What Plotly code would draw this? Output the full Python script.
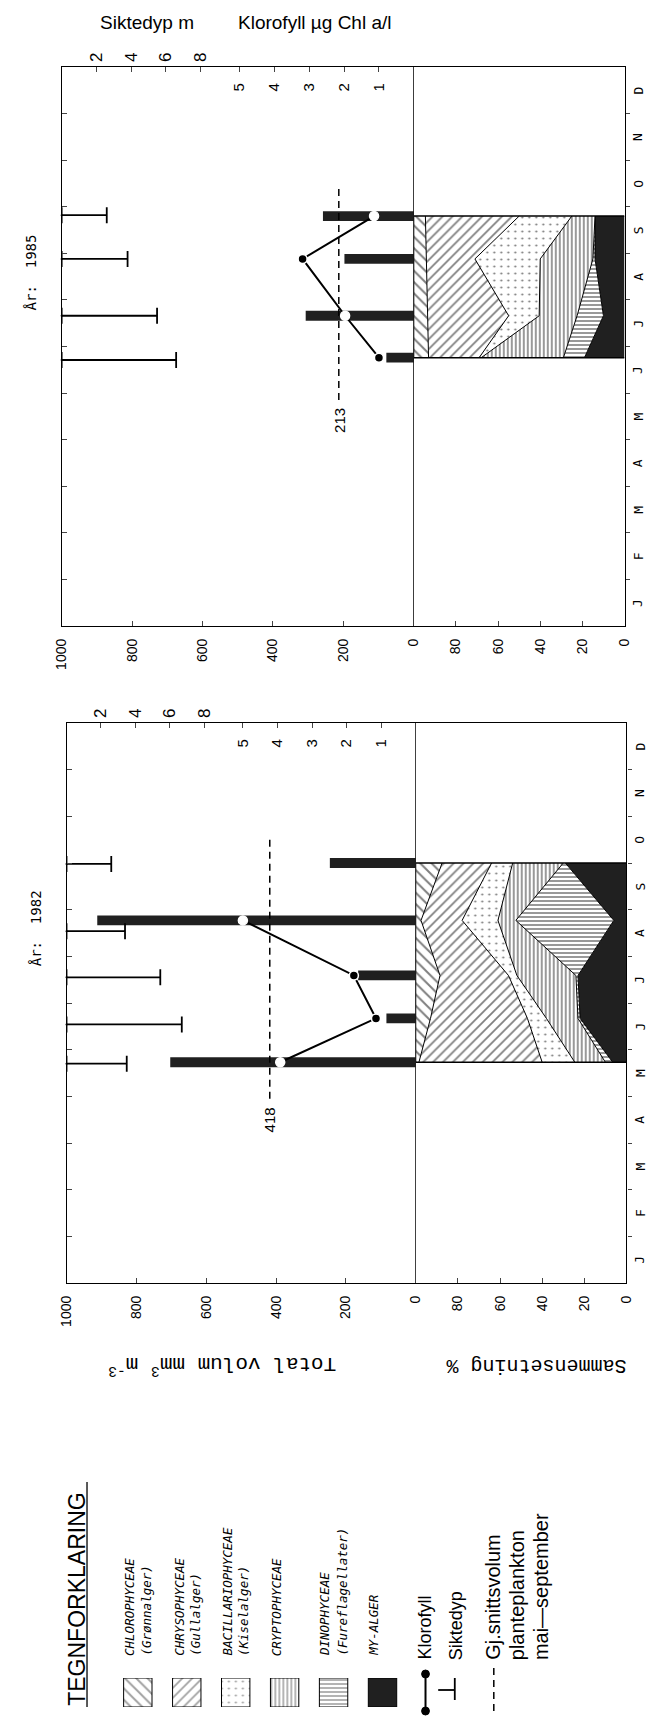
import plotly.graph_objects as go

# ---------------- data ----------------
MONTHS = ["J", "F", "M", "A", "M", "J", "J", "A", "S", "O", "N", "D"]
MONTH_CENTERS = [0.5, 1.5, 2.5, 3.5, 4.5, 5.5, 6.5, 7.5, 8.5, 9.5, 10.5, 11.5]
MONTH_BOUNDS = [1, 2, 3, 4, 5, 6, 7, 8, 9, 10, 11]

VOL_TICKS = [0, 200, 400, 600, 800, 1000]
PCT_TICKS = [0, 20, 40, 60, 80]
SIKT_TICKS = [2, 4, 6, 8]
CHL_TICKS = [1, 2, 3, 4, 5]

# sampling dates in month units (0 = 1 January)
date_1985 = [5.76, 6.66, 7.88, 8.80]
vol_1985 = [78, 307, 197, 258]            # total volum mm3/m3
chl_1985 = [1.0, 1.97, 3.19, 1.14]        # klorofyll ug Chl a/l
sikt_date_1985 = [5.71, 6.66, 7.88, 8.82]
sikt_1985 = [6.6, 5.5, 3.8, 2.6]          # siktedyp m
avg_1985 = 213
dash_1985 = [4.85, 9.45]
avg_label_1985 = 4.42

date_1982 = [4.73, 5.67, 6.59, 7.77, 9.0]
vol_1982 = [703, 84, 165, 912, 246]
chl_1982 = [3.92, 1.15, 1.79, 5.0]
sikt_date_1982 = [4.70, 5.54, 6.55, 7.54, 8.98]
sikt_1982 = [3.5, 6.7, 5.45, 3.4, 2.6]
avg_1982 = 418
dash_1982 = [3.95, 9.55]
avg_label_1982 = 3.5

# composition (%) per sampling date
my_1985 = [19, 10, 14, 14]
dino_1985 = [10, 12.5, 1, 0]
crypto_1985 = [39, 18, 25, 11]
bacil_1985 = [1, 14.5, 31, 25]
chryso_1985 = [24, 38.5, 23, 44.5]
chloro_1985 = [7, 6.5, 6, 5.5]

my_1982 = [6.5, 22, 23, 6, 29]
dino_1982 = [3.5, 1, 1, 46.5, 1]
crypto_1982 = [14.5, 15, 28, 8.5, 24]
bacil_1982 = [15.5, 9, 4, 17, 10]
chryso_1982 = [58.5, 46, 32.5, 19.5, 23.5]
chloro_1982 = [1.5, 7, 11.5, 2.5, 12.5]

GROUP_NAMES = ["MY-ALGER", "DINOPHYCEAE", "CRYPTOPHYCEAE",
               "BACILLARIOPHYCEAE", "CHRYSOPHYCEAE", "CHLOROPHYCEAE"]

# ---------------- styling ----------------
W, H = 653, 1718
DARK = "#202020"
STYLE = {
    "MY-ALGER": dict(color=DARK, shape=""),
    "DINOPHYCEAE": dict(color="white", shape="-", size=4, sol=0.4),
    "CRYPTOPHYCEAE": dict(color="white", shape="|", size=4, sol=0.4),
    "BACILLARIOPHYCEAE": dict(color="white", shape=".", size=7, sol=0.08),
    "CHRYSOPHYCEAE": dict(color="white", shape="/", size=7, sol=0.25),
    "CHLOROPHYCEAE": dict(color="white", shape="\\", size=8, sol=0.25),
}
TICKFONT = dict(family="Liberation Sans", size=14, color="black")


def px(x):
    return x / W


def py(y):
    return 1 - y / H


fig = go.Figure()
annotations = []
shapes = []
layout_axes = {}


def ann(**kw):
    kw.setdefault("showarrow", False)
    kw.setdefault("xanchor", "center")
    kw.setdefault("yanchor", "middle")
    annotations.append(kw)


def add_panel(year, geo, ax, dates, vols, chls, sdates, sikts, avg, dash, avg_lab, comp):
    xv, xp, xs, xc, ym, yi = ax
    # composition stacked areas
    for name, vals in zip(GROUP_NAMES, comp):
        st = STYLE[name]
        kw = dict(x=vals, y=dates, orientation="h", stackgroup="c" + year, mode="lines",
                  line=dict(color="black", width=1), xaxis=xp, yaxis=ym,
                  fillcolor=st["color"], hoverinfo="skip")
        if st["shape"]:
            kw["fillpattern"] = dict(shape=st["shape"], fgcolor="black", bgcolor="white",
                                     size=st["size"], solidity=st["sol"])
        fig.add_trace(go.Scatter(**kw))
    # volume bars
    fig.add_trace(go.Bar(x=vols, y=dates, orientation="h", width=0.21,
                         marker=dict(color=DARK, line=dict(width=0)),
                         xaxis=xv, yaxis=ym))
    # average dashed line
    fig.add_trace(go.Scatter(x=[avg, avg], y=dash, mode="lines",
                             line=dict(color="black", width=1.5, dash="7px,5px"),
                             xaxis=xv, yaxis=ym))
    ann(text=str(avg), x=avg, y=avg_lab, xref=xv, yref=ym, textangle=-90,
        font=dict(family="Liberation Sans", size=15, color="black"))
    # siktedyp
    n = len(sikts)
    fig.add_trace(go.Scatter(x=[0] * n, y=sdates, mode="markers",
                             marker=dict(size=2, color="black"),
                             error_x=dict(type="data", symmetric=False, array=sikts,
                                          arrayminus=[0] * n, color="black",
                                          thickness=1.8, width=8),
                             xaxis=xs, yaxis=ym, cliponaxis=False))
    # klorofyll
    mcol = ["white" if c * 100 < v else "black" for c, v in zip(chls, vols)]
    fig.add_trace(go.Scatter(x=chls, y=dates[:len(chls)], mode="lines+markers",
                             line=dict(color="black", width=2),
                             marker=dict(size=9, color=mcol, line=dict(color="white", width=1.5)),
                             xaxis=xc, yaxis=ym))
    # divider + composition caps
    shapes.append(dict(type="line", xref=xv, yref=ym + " domain", x0=0, x1=0, y0=0, y1=1,
                       line=dict(color="black", width=1.5)))
    for d in (dates[0], dates[-1]):
        shapes.append(dict(type="line", xref=xp, yref=ym, x0=0, x1=100, y0=d, y1=d,
                           line=dict(color="black", width=1.5)))

    def k(a):
        return "xaxis" + a[1:] if a != "x" else "xaxis"

    def ky(a):
        return "yaxis" + a[1:] if a != "y" else "yaxis"

    ydom = [py(geo["bottom"]), py(geo["top"])]
    line = dict(showline=True, linecolor="black", linewidth=1.3, mirror=True)
    layout_axes[k(xv)] = dict(domain=[px(geo["left"]), px(geo["div"])], anchor=ym,
                              range=[1000, 0], tickvals=VOL_TICKS, ticks="inside", ticklen=5,
                              tickangle=-90, tickfont=TICKFONT, showgrid=False,
                              zeroline=False, ticklabelstandoff=6, **line)
    layout_axes[k(xp)] = dict(domain=[px(geo["div"]), px(geo["right"])], anchor=ym,
                              range=[100, 0], tickvals=PCT_TICKS, ticks="inside", ticklen=5,
                              tickangle=-90, tickfont=TICKFONT, showgrid=False,
                              zeroline=False, ticklabelstandoff=6, **line)
    layout_axes[k(xs)] = dict(overlaying=xv, anchor=ym, side="top", range=[0, 20.3],
                              tickvals=SIKT_TICKS, ticks="inside", ticklen=5, tickangle=-90,
                              tickfont=dict(family="Liberation Sans", size=17, color="black"),
                              showgrid=False, zeroline=False, showline=False,
                              ticklabelstandoff=4)
    layout_axes[k(xc)] = dict(overlaying=xv, anchor=ym, side="top", range=[10.1, 0],
                              tickvals=CHL_TICKS, ticks="inside", ticklen=5, tickangle=-90,
                              ticklabelposition="inside",
                              tickfont=dict(family="Liberation Sans", size=15, color="black"),
                              showgrid=False, zeroline=False, showline=False,
                              ticklabelstandoff=3)
    layout_axes[ky(ym)] = dict(domain=ydom, anchor=xp, side="right", range=[0, 12],
                               tickvals=MONTH_BOUNDS, ticks="outside", ticklen=4,
                               showticklabels=False,
                               showline=True, linecolor="black", linewidth=1.3,
                               showgrid=False, zeroline=False)
    layout_axes[ky(yi)] = dict(overlaying=ym, anchor=xv, side="left", range=[0, 12],
                               tickvals=MONTH_BOUNDS, ticks="inside", ticklen=5,
                               showticklabels=False, showline=True, linecolor="black",
                               linewidth=1.3, showgrid=False, zeroline=False)
    # month labels (rotated, right of the panel)
    for m, c in zip(MONTHS, MONTH_CENTERS):
        ann(text=m, x=px(geo["right"] + 14), y=c, xref="paper", yref=ym, textangle=-90,
            font=dict(family="DejaVu Sans Mono", size=13, color="black"))
    # year label
    ann(text="År:  " + year, x=px(geo["left"] - 31), y=py(geo["top"] + 205),
        xref="paper", yref="paper", textangle=-90,
        font=dict(family="DejaVu Sans Mono", size=14, color="black"))


add_panel("1985", dict(left=55, div=416, right=632, top=67, bottom=626),
          ("x", "x2", "x3", "x4", "y", "y3"),
          date_1985, vol_1985, chl_1985, sikt_date_1985, sikt_1985, avg_1985, dash_1985,
          avg_label_1985,
          [my_1985, dino_1985, crypto_1985, bacil_1985, chryso_1985, chloro_1985])
add_panel("1982", dict(left=60, div=418, right=634, top=723, bottom=1283),
          ("x5", "x6", "x7", "x8", "y2", "y4"),
          date_1982, vol_1982, chl_1982, sikt_date_1982, sikt_1982, avg_1982, dash_1982,
          avg_label_1982,
          [my_1982, dino_1982, crypto_1982, bacil_1982, chryso_1982, chloro_1982])

# invisible helper traces so the overlay axes render
fig.add_trace(go.Scatter(x=[None], y=[None], xaxis="x", yaxis="y3", showlegend=False))
fig.add_trace(go.Scatter(x=[None], y=[None], xaxis="x5", yaxis="y4", showlegend=False))

# ---------------- legend (TEGNFORKLARING) ----------------
LEGEND_ORDER = ["CHLOROPHYCEAE", "CHRYSOPHYCEAE", "BACILLARIOPHYCEAE",
                "CRYPTOPHYCEAE", "DINOPHYCEAE", "MY-ALGER"]
LEGEND_SUB = ["(Grønnalger)", "(Gullalger)", "(Kiselalger)", "", "(Fureflagellater)", ""]
fig.add_trace(go.Bar(
    x=LEGEND_ORDER, y=[1] * len(LEGEND_ORDER), width=0.58,
    marker=dict(color=[STYLE[n]["color"] for n in LEGEND_ORDER],
                line=dict(color="black", width=1),
                pattern=dict(shape=[STYLE[n]["shape"] for n in LEGEND_ORDER],
                             fgcolor="black",
                             size=[STYLE[n].get("size", 6) for n in LEGEND_ORDER],
                             solidity=[STYLE[n].get("sol", 0.3) for n in LEGEND_ORDER])),
    xaxis="x9", yaxis="y5", hoverinfo="skip"))
layout_axes["xaxis9"] = dict(domain=[px(108), px(409)], anchor="y5", visible=False,
                             categoryorder="array", categoryarray=LEGEND_ORDER)
layout_axes["yaxis5"] = dict(domain=[py(1707), py(1678)], anchor="x9", range=[0, 1],
                             visible=False)

leg_font = dict(family="DejaVu Sans Mono", size=12.5, color="black")
main_x = [124, 175, 224, 275, 324, 374]
sub_x = [141, 192, 241, None, 342, None]
for name, sub, mx, sx in zip(LEGEND_ORDER, LEGEND_SUB, main_x, sub_x):
    ann(text="<i>" + name + "</i>", x=px(mx), y=py(1658), xref="paper", yref="paper",
        textangle=-90, yanchor="bottom", font=leg_font)
    if sub:
        ann(text="<i>" + sub + "</i>", x=px(sx), y=py(1658), xref="paper", yref="paper",
            textangle=-90, yanchor="bottom", font=leg_font)

for txt, xx, fs in [("Klorofyll", 427, 18), ("Siktedyp", 459, 18),
                    ("Gj.snittsvolum", 497, 20), ("planteplankton", 522, 20),
                    ("mai—september", 546, 20)]:
    ann(text=txt, x=px(xx), y=py(1662), xref="paper", yref="paper", textangle=-90,
        yanchor="bottom", font=dict(family="Liberation Sans", size=fs, color="black"))

ann(text="TEGNFORKLARING", x=px(70), y=py(1708), xref="paper", yref="paper",
    textangle=-90, yanchor="bottom",
    font=dict(family="Liberation Sans", size=23, color="black"))
shapes.append(dict(type="line", xref="paper", yref="paper", x0=px(81), x1=px(81),
                   y0=py(1707), y1=py(1482), line=dict(color="black", width=1.3)))

# legend symbols
shapes += [
    dict(type="line", xref="paper", yref="paper", x0=px(428), x1=px(428), y0=py(1674),
         y1=py(1711), line=dict(color="black", width=2)),
    dict(type="circle", xref="paper", yref="paper", x0=px(424), x1=px(432), y0=py(1670),
         y1=py(1678), fillcolor="black", line=dict(color="black", width=1)),
    dict(type="circle", xref="paper", yref="paper", x0=px(424), x1=px(432), y0=py(1707),
         y1=py(1715), fillcolor="black", line=dict(color="black", width=1)),
    dict(type="line", xref="paper", yref="paper", x0=px(441), x1=px(458), y0=py(1690),
         y1=py(1690), line=dict(color="black", width=1.8)),
    dict(type="line", xref="paper", yref="paper", x0=px(458), x1=px(458), y0=py(1678),
         y1=py(1700), line=dict(color="black", width=1.8)),
    dict(type="line", xref="paper", yref="paper", x0=px(498), x1=px(498), y0=py(1668),
         y1=py(1712), line=dict(color="black", width=1.5, dash="7px,5px")),
]

# headers and axis titles
ann(text="Siktedyp m", x=px(142), y=py(22), xref="paper", yref="paper",
    font=dict(family="Liberation Sans", size=19, color="black"))
ann(text="Klorofyll µg Chl a/l", x=px(315), y=py(22), xref="paper", yref="paper",
    font=dict(family="Liberation Sans", size=19, color="black"))
ann(text="Total volum mm<sup>3</sup> m<sup>-3</sup>", x=px(220), y=py(1366),
    xref="paper", yref="paper", textangle=180,
    font=dict(family="Liberation Mono", size=21, color="black"))
ann(text="Sammensetning %", x=px(541), y=py(1366), xref="paper", yref="paper",
    textangle=180, font=dict(family="Liberation Mono", size=20, color="black"))

fig.update_layout(width=W, height=H, margin=dict(l=0, r=0, t=0, b=0),
                  plot_bgcolor="white", paper_bgcolor="white", showlegend=False,
                  barmode="overlay", font=dict(family="Liberation Sans", color="black"),
                  annotations=annotations, shapes=shapes, **layout_axes)

fig.write_html("out.html")
